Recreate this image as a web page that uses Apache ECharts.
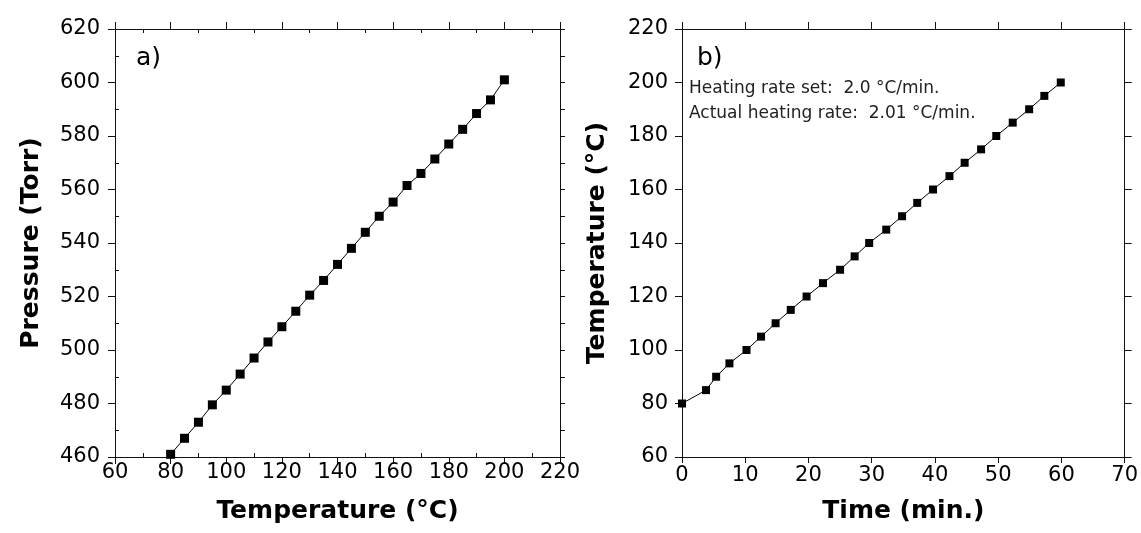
<!DOCTYPE html>
<html>
<head>
<meta charset="utf-8">
<script src="https://cdn.jsdelivr.net/npm/echarts@6/dist/echarts.min.js"></script>
<style>
  html, body { margin: 0; padding: 0; background: #fff; }
  #chart { width: 1141px; height: 533px; }
</style>
</head>
<body>
<div id="chart"></div>
<script>
// Panel a): vapour pressure against temperature
const tempA = [80, 85, 90, 95, 100, 105, 110, 115, 120, 125, 130, 135, 140,
               145, 150, 155, 160, 165, 170, 175, 180, 185, 190, 195, 200];
const pressureA = [461, 467, 473, 479.5, 485, 491, 497, 503, 508.7, 514.5, 520.5, 526, 532,
                   538, 544, 550, 555.3, 561.5, 566, 571.4, 577, 582.5, 588.4, 593.5, 601];

// Panel b): oven temperature against elapsed time
const timeB = [0, 3.8, 5.4, 7.5, 10.2, 12.5, 14.8, 17.2, 19.7, 22.3, 25.0, 27.3, 29.6,
               32.3, 34.8, 37.2, 39.7, 42.3, 44.7, 47.3, 49.7, 52.3, 54.9, 57.3, 59.9];
const tempB = [80, 85, 90, 95, 100, 105, 110, 115, 120, 125, 130, 135, 140,
               145, 150, 155, 160, 165, 170, 175, 180, 185, 190, 195, 200];

const panelLabels = ['a)', 'b)'];
const rateNotes = ['Heating rate set:  2.0 \u00B0C/min.', 'Actual heating rate:  2.01 \u00B0C/min.'];

const INK = '#111';
const tickFont = { fontFamily: 'DejaVu Sans', fontSize: 21, color: '#000' };
const titleFont = { fontFamily: 'DejaVu Sans', fontSize: 25, fontWeight: 'bold', color: '#000' };

function pairs(xs, ys) { return xs.map((x, i) => [x, ys[i]]); }

// main (labelled) axis
function mainAxis(o) {
  return Object.assign({
    type: 'value',
    axisLine: { show: true, onZero: false, lineStyle: { color: INK, width: 1 } },
    axisTick: { show: true, inside: false, length: 7, lineStyle: { color: INK, width: 1 } },
    axisLabel: Object.assign({ show: true }, tickFont),
    splitLine: { show: false },
    nameLocation: 'middle',
    nameTextStyle: Object.assign({}, titleFont)
  }, o);
}

// mirrored frame axis (ticks only)
function frameAxis(o) {
  return Object.assign({
    type: 'value',
    axisLine: { show: true, onZero: false, lineStyle: { color: INK, width: 1 } },
    axisTick: { show: true, inside: false, length: 6, lineStyle: { color: INK, width: 1 } },
    axisLabel: { show: false },
    splitLine: { show: false }
  }, o);
}

// minor ticks pointing into the plot
const minorIn = { show: true, splitNumber: 2, length: -4, lineStyle: { color: INK, width: 1 } };

const option = {
  animation: false,
  backgroundColor: '#fff',
  grid: [
    { left: 115, top: 29, right: 581, bottom: 76 },
    { left: 682, top: 29, right: 15, bottom: 76 }
  ],
  xAxis: [
    mainAxis({ gridIndex: 0, position: 'bottom', min: 60, max: 220, interval: 20,
      minorTick: minorIn, axisLabel: Object.assign({ margin: 5 }, tickFont),
      name: 'Temperature (\u00B0C)', nameGap: 42 }),
    frameAxis({ gridIndex: 0, position: 'top', min: 60, max: 220, interval: 20, minorTick: minorIn,
      axisTick: { show: true, length: 7, lineStyle: { color: INK } } }),
    mainAxis({ gridIndex: 1, position: 'bottom', min: 0, max: 70, interval: 10,
      axisLabel: Object.assign({ margin: 8 }, tickFont),
      axisTick: { show: true, length: 6, lineStyle: { color: INK } },
      name: 'Time (min.)', nameGap: 42 }),
    frameAxis({ gridIndex: 1, position: 'top', min: 0, max: 70, interval: 10,
      axisTick: { show: true, length: 7, lineStyle: { color: INK } } })
  ],
  yAxis: [
    mainAxis({ gridIndex: 0, position: 'left', min: 460, max: 620, interval: 20,
      minorTick: minorIn, axisLabel: Object.assign({ margin: 15 }, tickFont),
      name: 'Pressure (Torr)', nameGap: 71, nameRotate: 90 }),
    frameAxis({ gridIndex: 0, position: 'right', min: 460, max: 620, interval: 20,
      axisTick: { show: true, length: 5, lineStyle: { color: INK } },
      minorTick: { show: true, splitNumber: 2, length: 5, lineStyle: { color: INK } } }),
    mainAxis({ gridIndex: 1, position: 'left', min: 60, max: 220, interval: 20,
      axisLabel: Object.assign({ margin: 14 }, tickFont),
      name: 'Temperature (\u00B0C)', nameGap: 72, nameRotate: 90 }),
    frameAxis({ gridIndex: 1, position: 'right', min: 60, max: 220, interval: 20,
      axisTick: { show: true, length: 7, lineStyle: { color: INK } } })
  ],
  series: [
    {
      type: 'line', xAxisIndex: 0, yAxisIndex: 0, clip: false,
      data: pairs(tempA, pressureA),
      symbol: 'rect', symbolSize: 9, showSymbol: true,
      itemStyle: { color: '#000' },
      lineStyle: { color: '#000', width: 1 }
    },
    {
      type: 'line', xAxisIndex: 2, yAxisIndex: 2, clip: false,
      data: pairs(timeB, tempB),
      symbol: 'rect', symbolSize: 8, showSymbol: true,
      itemStyle: { color: '#000' },
      lineStyle: { color: '#000', width: 1 }
    }
  ],
  graphic: [
    { type: 'text', left: 136, top: 46,
      style: { text: panelLabels[0], fontFamily: 'DejaVu Sans', fontSize: 25, fill: '#000' } },
    { type: 'text', left: 697, top: 46,
      style: { text: panelLabels[1], fontFamily: 'DejaVu Sans', fontSize: 25, fill: '#000' } },
    { type: 'text', left: 689, top: 80,
      style: { text: rateNotes[0], fontFamily: 'DejaVu Sans', fontSize: 17, fill: '#222' } },
    { type: 'text', left: 689, top: 105,
      style: { text: rateNotes[1], fontFamily: 'DejaVu Sans', fontSize: 17, fill: '#222' } }
  ]
};

const chart = echarts.init(document.getElementById('chart'), null, { renderer: 'canvas' });
chart.setOption(option);
</script>
</body>
</html>
